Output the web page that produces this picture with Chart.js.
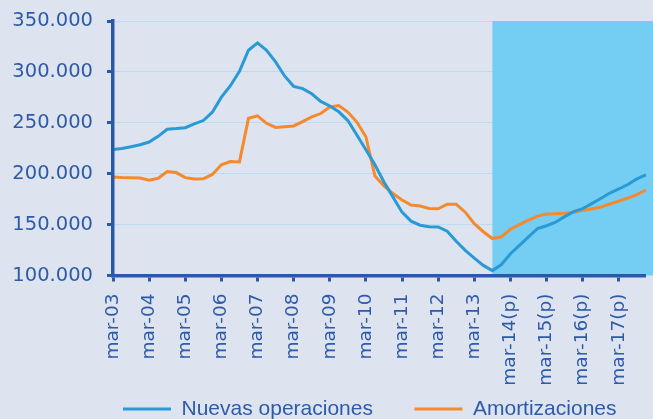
<!DOCTYPE html>
<html>
<head>
<meta charset="utf-8">
<script src="https://cdn.jsdelivr.net/npm/chart.js@4/dist/chart.umd.min.js"></script>
<style>
  html, body { margin: 0; padding: 0; background: #dee3f0; }
  #wrap { width: 653px; height: 419px; position: relative; }
</style>
</head>
<body>
<div id="wrap"><canvas id="grafico"></canvas></div>
<script>
// años del eje (trimestres mar-03 ... dic-17)
const anios = ["03", "04", "05", "06", "07", "08", "09", "10", "11", "12", "13", "14", "15", "16", "17"];
const meses = ["mar", "jun", "sep", "dic"];
const trimestres = anios.flatMap((a) => meses.map((m) => `${m}-${a}`));

// etiquetas que se muestran en el eje x (una por año)
const etiquetasEje = [
  "mar-03", "mar-04", "mar-05", "mar-06", "mar-07", "mar-08", "mar-09", "mar-10",
  "mar-11", "mar-12", "mar-13", "mar-14(p)", "mar-15(p)", "mar-16(p)", "mar-17(p)",
];

const ticksY = [100000, 150000, 200000, 250000, 300000, 350000];

// primer trimestre de previsión (zona sombreada)
const inicioPrevision = 42;

const nuevasOperaciones = [
  223800, 224800, 226500, 228400, 231100, 236700, 243600, 244300,
  245200, 248900, 252200, 260400, 275200, 286400, 300600, 321300,
  328500, 321300, 309800, 296000, 285800, 283600, 278500, 271000,
  266500, 260800, 252200, 238000, 223500, 208700, 191900, 177000,
  162200, 153400, 149400, 147900, 147700, 143500, 133600, 124700,
  117100, 109900, 104800, 110800, 121400, 129600, 138000, 146000,
  148900, 152400, 157800, 162700, 165700, 170600, 175600, 181000,
  185000, 189400, 194900, 198800,
];

const amortizaciones = [
  196800, 196300, 196100, 195800, 193600, 195500, 202100, 201100,
  196100, 194900, 195000, 199300, 208700, 211900, 211600, 254400,
  256800, 249500, 245500, 246200, 246900, 251200, 255800, 259100,
  265500, 267000, 260600, 250700, 236300, 197800, 188000, 180500,
  174100, 169200, 168200, 165900, 165500, 170100, 169900, 162200,
  150900, 143000, 136300, 138000, 145400, 149900, 154300, 158300,
  160300, 160600, 161100, 162200, 164000, 165400, 167200, 170200,
  173100, 176100, 179500, 184000,
];

const colorTexto = "#2d5ba7";
const colorEje = "#2a5aa7";
const fuente = "'DejaVu Sans', sans-serif";

function formatoMiles(v) {
  return String(v).replace(/\B(?=(\d{3})+(?!\d))/g, ".");
}

// rectángulo azul para los trimestres previstos
const zonaPrevision = {
  id: "zonaPrevision",
  beforeDatasetsDraw(chart) {
    const { ctx, chartArea } = chart;
    const x0 = chart.scales.x.getPixelForValue(inicioPrevision);
    ctx.save();
    ctx.fillStyle = "#74cdf3";
    ctx.fillRect(x0, chartArea.top, chart.width - x0, chartArea.bottom - chartArea.top);
    ctx.restore();
  },
};

// la leyenda va algo desplazada a la derecha y pegada al borde inferior
const moverLeyenda = {
  id: "moverLeyenda",
  afterLayout(chart) {
    const l = chart.legend;
    l.left += 81.5;
    l.right += 81.5;
    l.top -= 38.5;
    l.bottom -= 38.5;
  },
};

const ctx = document.getElementById("grafico");

new Chart(ctx, {
  type: "line",
  data: {
    labels: trimestres,
    datasets: [
      {
        label: "Nuevas operaciones",
        data: nuevasOperaciones,
        borderColor: "#2a9ad5",
        backgroundColor: "#2a9ad5",
        borderWidth: 3,
        pointRadius: 0,
        tension: 0,
      },
      {
        label: "Amortizaciones",
        data: amortizaciones,
        borderColor: "#f5892d",
        backgroundColor: "#f5892d",
        borderWidth: 3,
        pointRadius: 0,
        tension: 0,
      },
    ],
  },
  options: {
    responsive: true,
    maintainAspectRatio: false,
    animation: false,
    layout: {
      padding: { left: 0, right: 0, top: 21, bottom: -49 },
    },
    plugins: {
      tooltip: { enabled: false },
      legend: {
        position: "bottom",
        align: "start",
        labels: {
          usePointStyle: true,
          pointStyle: "line",
          pointStyleWidth: 48,
          padding: 41.5,
          color: colorTexto,
          font: { family: "'Liberation Sans', Arial, sans-serif", size: 21 },
        },
      },
    },
    scales: {
      x: {
        offset: false,
        afterBuildTicks(axis) {
          axis.ticks = axis.ticks.filter((t) => t.value % 4 === 0);
        },
        afterFit(scale) {
          scale.height = 120;
        },
        grid: {
          display: true,
          drawOnChartArea: false,
          drawTicks: true,
          tickLength: 6,
          tickWidth: 3,
          tickColor: colorEje,
        },
        border: { display: true, color: colorEje, width: 3.5, z: 1 },
        ticks: {
          autoSkip: false,
          minRotation: 90,
          maxRotation: 90,
          padding: 12,
          color: colorTexto,
          font: { family: fuente, size: 18.5 },
          callback(value) {
            return etiquetasEje[value / 4];
          },
        },
      },
      y: {
        min: 100000,
        max: 350000,
        afterBuildTicks(axis) {
          axis.ticks = ticksY.map((v) => ({ value: v }));
        },
        afterFit(scale) {
          scale.width = 113;
          scale.paddingTop = 0;
          scale.paddingBottom = 0;
        },
        grid: {
          color: "#b9dcf3",
          lineWidth: 1,
          drawTicks: true,
          tickLength: 6,
          tickWidth: 3,
          tickColor: colorEje,
        },
        border: { display: true, color: colorEje, width: 3.5, z: 1 },
        ticks: {
          padding: 14,
          color: colorTexto,
          font: { family: fuente, size: 19.5 },
          callback(value) {
            return formatoMiles(value);
          },
        },
      },
    },
  },
  plugins: [zonaPrevision, moverLeyenda],
});
</script>
</body>
</html>
